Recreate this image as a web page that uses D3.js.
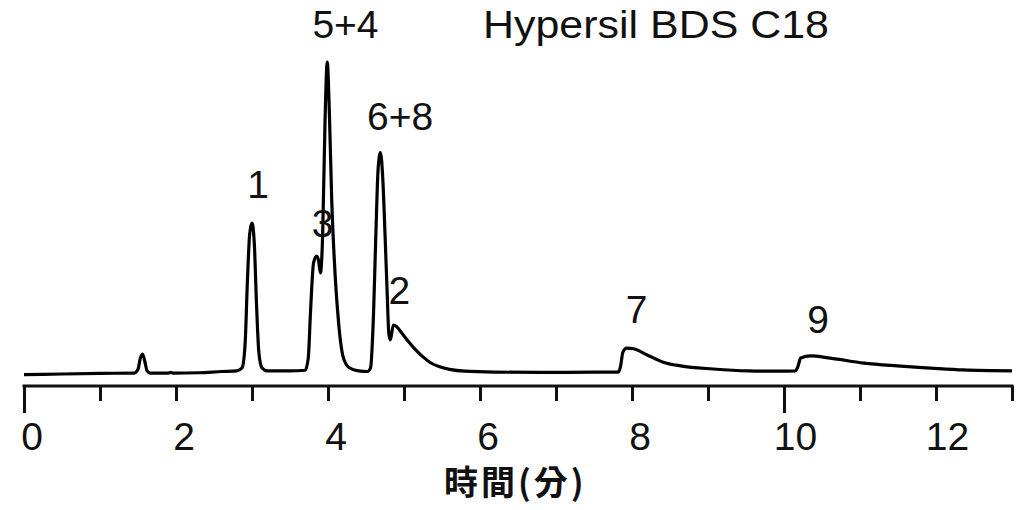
<!DOCTYPE html>
<html>
<head>
<meta charset="utf-8">
<script src="https://cdn.jsdelivr.net/npm/d3@7/dist/d3.min.js"></script>
<style>
  html, body { margin: 0; padding: 0; background: #fff; }
  svg { display: block; }
  text { font-family: "Liberation Sans", Arial, Helvetica, sans-serif; fill: #111; }
</style>
</head>
<body>
<svg id="chart" width="1024" height="510"></svg>
<script>
// Chromatogram trace: retention time (min) and detector response (relative units)
const timeMin = [
  0.00, 0.50, 1.00, 1.45, 1.50, 1.53, 1.56, 1.59, 1.62, 1.66,
  1.90, 1.93, 1.96, 2.30, 2.60, 2.80, 2.87, 2.91, 2.94, 2.97,
  3.00, 3.03, 3.06, 3.09, 3.13, 3.20, 3.50, 3.70, 3.74, 3.77,
  3.81, 3.85, 3.875, 3.90, 3.93, 3.96, 3.99, 4.02, 4.05, 4.08,
  4.14, 4.20, 4.28, 4.40, 4.52, 4.56, 4.60, 4.63, 4.66, 4.69,
  4.72, 4.75, 4.78, 4.80, 4.82, 4.86, 4.90, 4.95, 5.00, 5.08,
  5.16, 5.25, 5.35, 5.47, 5.60, 5.80, 6.20, 6.80, 7.50, 7.82,
  7.85, 7.88, 7.93, 8.02, 8.20, 8.41, 8.64, 9.07, 9.52, 9.95,
  10.15, 10.18, 10.22, 10.35, 10.61, 11.05, 11.49, 11.93, 12.36, 13.00
];
const response = [
  -0.2, 0.0, 0.2, 0.3, 1.5, 5.0, 6.4, 4.0, 1.0, 0.3,
  0.3, 0.5, 0.3, 0.4, 0.8, 1.0, 2.0, 10.0, 30.0, 45.0,
  48.4, 42.0, 22.0, 7.0, 2.0, 1.0, 1.0, 1.2, 5.0, 20.0,
  35.6, 37.8, 36.5, 32.4, 45.0, 80.0, 100.0, 82.0, 55.0, 38.0,
  16.3, 5.4, 2.0, 1.0, 0.8, 2.0, 20.0, 45.0, 66.0, 71.0,
  63.0, 45.0, 25.0, 13.0, 10.9, 15.7, 15.2, 13.8, 12.2, 9.8,
  7.6, 5.5, 3.6, 2.3, 1.5, 0.9, 0.6, 0.5, 0.6, 0.6,
  2.5, 7.0, 8.3, 8.1, 6.1, 3.8, 2.6, 1.6, 1.0, 0.9,
  1.0, 2.2, 5.1, 5.8, 5.1, 3.5, 2.6, 1.9, 1.3, 1.0
];

// Peak identifiers with the time / response where each label sits
const peakNames = ["1", "3", "5+4", "6+8", "2", "7", "9"];
const peakLabelTime = [3.08, 3.93, 4.23, 4.95, 4.94, 8.06, 10.45];
const peakLabelLevel = [56.4, 43.9, 107.7, 78.2, 22.4, 16.3, 13.1];

// Axis ticks
const tickValues = d3.range(0, 14);
const tickLabels = [0, 2, 4, 6, 8, 10, 12];
const longTicks = [0, 10];

const titleText = "Hypersil BDS C18";
const xTitle = "時間(分)";

const svg = d3.select("#chart");
svg.append("rect").attr("width", 1024).attr("height", 510).attr("fill", "#fff");

const x = d3.scaleLinear().domain([0, 13]).range([24, 1012]);
const y = d3.scaleLinear().domain([0, 100]).range([374, 62]);

const axisY = 386;

// x axis
const axis = d3.axisBottom(x)
  .tickValues(tickValues)
  .tickSizeOuter(0)
  .tickSize(15)
  .tickFormat("");

const gAxis = svg.append("g")
  .attr("transform", `translate(0,${axisY})`)
  .call(axis);

gAxis.select(".domain")
  .attr("stroke", "#111")
  .attr("stroke-width", 3)
  .attr("d", `M${x(0) - 1.5},0H${x(13) + 1.5}`);

gAxis.selectAll(".tick line")
  .attr("stroke", "#111")
  .attr("stroke-width", 3)
  .attr("y1", 0)
  .attr("y2", d => longTicks.includes(d) ? 27 : 15);

gAxis.selectAll(".tick text").remove();

gAxis.selectAll(".tick")
  .filter(d => tickLabels.includes(d))
  .append("text")
  .attr("y", 64)
  .attr("dx", d => 4 + 3.5 * String(d).length)
  .attr("text-anchor", "middle")
  .attr("font-size", 39)
  .attr("fill", "#111")
  .style("font-family", '"Liberation Sans", Arial, sans-serif')
  .text(d => d);

// trace
const pts = timeMin.map((t, i) => [t, response[i]]);
const line = d3.line()
  .x(d => x(d[0]))
  .y(d => y(d[1]))
  .curve(d3.curveMonotoneX);

svg.append("path")
  .datum(pts)
  .attr("fill", "none")
  .attr("stroke", "#000")
  .attr("stroke-width", 3.2)
  .attr("stroke-linejoin", "round")
  .attr("d", line);

// peak labels
svg.append("g")
  .selectAll("text")
  .data(peakNames)
  .join("text")
  .attr("x", (d, i) => x(peakLabelTime[i]))
  .attr("y", (d, i) => y(peakLabelLevel[i]))
  .attr("text-anchor", "middle")
  .attr("font-size", 39)
  .text(d => d);

// column name
svg.append("text")
  .attr("x", 483)
  .attr("y", 38)
  .attr("font-size", 39)
  .attr("textLength", 346)
  .attr("lengthAdjust", "spacingAndGlyphs")
  .text(titleText);

// x-axis title
svg.append("text")
  .attr("x", 444)
  .attr("y", 495)
  .attr("font-size", 34)
  .attr("font-weight", 700)
  .attr("letter-spacing", 3)
  .style("font-family", '"Noto Sans CJK TC", "Noto Sans CJK JP", sans-serif')
  .text(xTitle);
</script>
</body>
</html>
